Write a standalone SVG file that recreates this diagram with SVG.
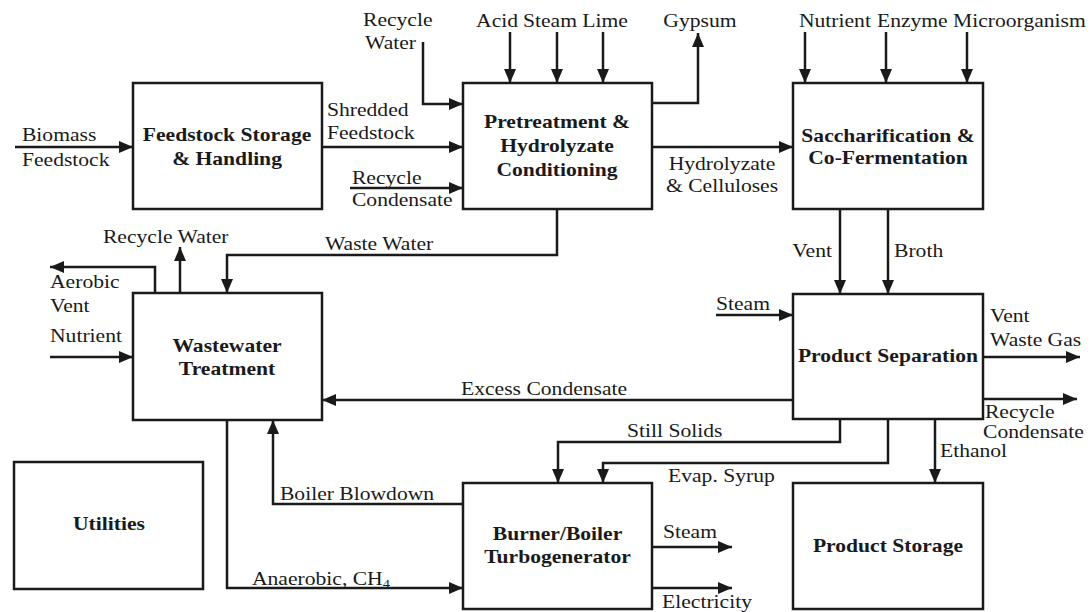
<svg xmlns="http://www.w3.org/2000/svg" width="1091" height="612" viewBox="0 0 1091 612">
<style>
.box{fill:#fff;stroke:#1a1a1a;stroke-width:2.5}
.ln{fill:none;stroke:#1a1a1a;stroke-width:2.5}
.ar{marker-end:url(#ah)}
text{font-family:"Liberation Serif","Times New Roman",serif;font-size:18px;fill:#1a1a1a}
.b{font-weight:bold;text-anchor:middle}
.m{text-anchor:middle}
.e{text-anchor:end}
</style>
<defs>
<marker id="ah" markerWidth="14" markerHeight="12" refX="14" refY="6" orient="auto" markerUnits="userSpaceOnUse"><path d="M0,0 L14,6 L0,12 z" fill="#1a1a1a"/></marker>
</defs>
<rect width="1091" height="612" fill="#fff"/>
<g id="connectors">
<path class="ln ar" d="M15,147 H133"/>
<path class="ln ar" d="M322,147 H463"/>
<path class="ln ar" d="M423,42 V104 H463"/>
<path class="ln ar" d="M350,188 H463"/>
<path class="ln ar" d="M510,32 V83"/>
<path class="ln ar" d="M557,32 V83"/>
<path class="ln ar" d="M603,32 V83"/>
<path class="ln ar" d="M652,103 H698 V33"/>
<path class="ln ar" d="M652,147 H793"/>
<path class="ln ar" d="M805,32 V83"/>
<path class="ln ar" d="M886,32 V83"/>
<path class="ln ar" d="M967,32 V83"/>
<path class="ln ar" d="M557,209 V255 H227 V293"/>
<path class="ln ar" d="M155,293 V267 H50"/>
<path class="ln ar" d="M180,293 V247"/>
<path class="ln ar" d="M50,357 H133"/>
<path class="ln ar" d="M840,209 V294"/>
<path class="ln ar" d="M888,209 V294"/>
<path class="ln ar" d="M716,315 H793"/>
<path class="ln ar" d="M983,357 H1080"/>
<path class="ln ar" d="M983,399 H1077"/>
<path class="ln ar" d="M793,400 H322"/>
<path class="ln ar" d="M840,419 V442 H558 V483"/>
<path class="ln ar" d="M888,419 V463 H603 V483"/>
<path class="ln ar" d="M935,419 V483"/>
<path class="ln ar" d="M463,504 H273 V420"/>
<path class="ln ar" d="M227,420 V588 H463"/>
<path class="ln ar" d="M652,547 H732"/>
<path class="ln ar" d="M652,588 H732"/>
</g>
<g id="feedstock"><rect class="box" x="133" y="83" width="189" height="126"/></g>
<g id="pretreatment"><rect class="box" x="463" y="83" width="189" height="126"/></g>
<g id="saccharification"><rect class="box" x="793" y="83" width="190" height="126"/></g>
<g id="wastewater"><rect class="box" x="133" y="293" width="189" height="127"/></g>
<g id="separation"><rect class="box" x="793" y="294" width="190" height="125"/></g>
<g id="utilities"><rect class="box" x="14" y="462" width="189" height="127"/></g>
<g id="burner"><rect class="box" x="463" y="483" width="189" height="126"/></g>
<g id="storage"><rect class="box" x="793" y="483" width="190" height="126"/></g>
<g id="labels" transform="scale(1.2,1)">
<text class="b" x="189.2" y="141">Feedstock Storage</text>
<text class="b" x="189.2" y="165">&amp; Handling</text>
<text class="b" x="464.2" y="128">Pretreatment &amp;</text>
<text class="b" x="464.2" y="152">Hydrolyzate</text>
<text class="b" x="464.2" y="176">Conditioning</text>
<text class="b" x="740" y="142">Saccharification &amp;</text>
<text class="b" x="740" y="164">Co-Fermentation</text>
<text class="b" x="189.2" y="352">Wastewater</text>
<text class="b" x="189.2" y="375">Treatment</text>
<text class="b" x="740" y="362">Product Separation</text>
<text class="b" x="90.8" y="530">Utilities</text>
<text class="b" x="464.6" y="540">Burner/Boiler</text>
<text class="b" x="464.6" y="563">Turbogenerator</text>
<text class="b" x="740" y="552">Product Storage</text>
<text x="18.3" y="141">Biomass</text>
<text x="18.3" y="166">Feedstock</text>
<text x="272.5" y="116">Shredded</text>
<text x="272.5" y="139">Feedstock</text>
<text x="302.5" y="26">Recycle</text>
<text x="304.2" y="49">Water</text>
<text x="293.3" y="184">Recycle</text>
<text x="293.3" y="206">Condensate</text>
<text class="m" x="414.2" y="27">Acid</text>
<text class="m" x="458.3" y="27">Steam</text>
<text class="m" x="504.2" y="27">Lime</text>
<text class="m" x="583.3" y="27">Gypsum</text>
<text x="665.8" y="27">Nutrient</text>
<text x="730.8" y="27">Enzyme</text>
<text x="794.2" y="27">Microorganism</text>
<text class="m" x="601.7" y="170">Hydrolyzate</text>
<text class="m" x="601.7" y="192">&amp; Celluloses</text>
<text x="85.8" y="243">Recycle Water</text>
<text x="270.8" y="250">Waste Water</text>
<text x="41.7" y="288">Aerobic</text>
<text x="41.7" y="312">Vent</text>
<text x="41.7" y="342">Nutrient</text>
<text class="e" x="693.3" y="257">Vent</text>
<text x="745" y="257">Broth</text>
<text x="596.7" y="310">Steam</text>
<text x="825" y="322">Vent</text>
<text x="825" y="346">Waste Gas</text>
<text x="820.8" y="418">Recycle</text>
<text x="819.2" y="438">Condensate</text>
<text x="384.2" y="395">Excess Condensate</text>
<text x="522.5" y="437">Still Solids</text>
<text x="556.7" y="482">Evap. Syrup</text>
<text x="783.3" y="457">Ethanol</text>
<text x="233.3" y="500">Boiler Blowdown</text>
<text x="210" y="585">Anaerobic, CH<tspan font-size="12" dy="3">4</tspan></text>
<text x="552.5" y="538">Steam</text>
<text x="551.7" y="608">Electricity</text>
</g>
</svg>
